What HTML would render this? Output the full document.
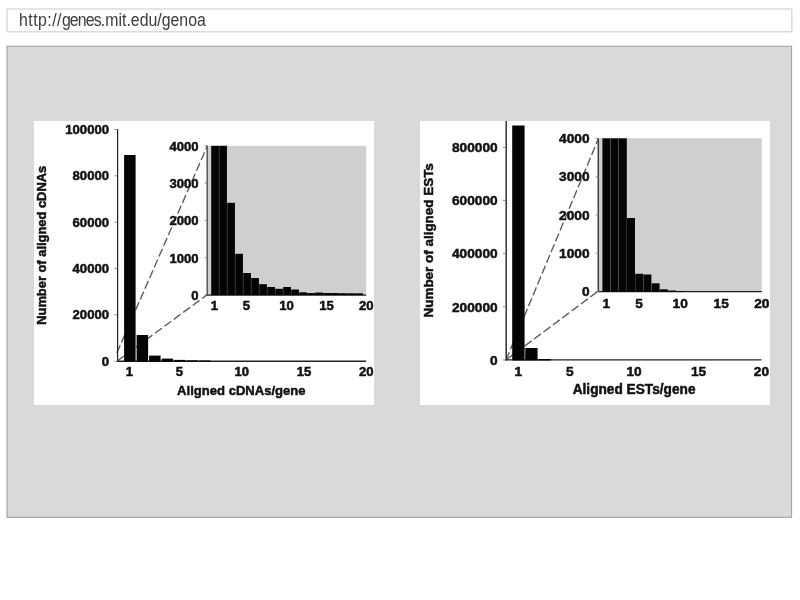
<!DOCTYPE html>
<html><head><meta charset="utf-8"><title>genoa</title>
<style>
html,body{margin:0;padding:0;background:#fff;}
body{width:800px;height:600px;position:relative;overflow:hidden;font-family:"Liberation Sans",sans-serif;}
#url{position:absolute;left:8px;top:10px;width:784px;height:22px;z-index:2;}
#url span{position:absolute;left:10.6px;top:-1px;font-size:17.3px;line-height:22px;color:#3c3c3c;letter-spacing:0;white-space:nowrap;transform-origin:0 82%;transform:scale(0.918,1.06);}
#url i{font-style:normal;}
svg{position:absolute;left:0;top:0;}
svg text{font-family:"Liberation Sans",sans-serif;font-weight:bold;fill:#111;stroke:#111;stroke-width:0.5px;}
</style></head><body>
<div id="url"><span><i style="letter-spacing:0.5px">http://</i><i style="letter-spacing:-0.93px">genes</i>.mit.edu/genoa</span></div>
<svg width="800" height="600" viewBox="0 0 800 600">
<rect x="7" y="9" width="784.8" height="22.8" rx="1" fill="#fff" stroke="#dbdbdb" stroke-width="1.6"/>
<rect x="7" y="46.2" width="784.6" height="471.1" fill="#d9d9d9" stroke="#9c9c9c" stroke-width="1"/>

<rect x="34" y="121" width="340" height="284" fill="#fff"/>
<defs><clipPath id="cl"><rect x="34" y="121" width="340" height="284"/></clipPath><clipPath id="cr"><rect x="420" y="121" width="350" height="284"/></clipPath></defs>
<g clip-path="url(#cl)">
<g stroke="#5a5a5a" stroke-width="1.35" stroke-dasharray="8.5 3.2" fill="none">
<line x1="116.8" y1="353" x2="207.3" y2="146"/>
<line x1="117.3" y1="361" x2="207.5" y2="294.5"/>
</g>
<g stroke="#222" stroke-width="1" fill="none">
<line x1="117.6" y1="129" x2="117.6" y2="361.5" stroke-width="1.2"/>
<line x1="117" y1="361.2" x2="366.1" y2="361.2" stroke-width="1.5"/>
<line x1="114.3" y1="361.20" x2="117.4" y2="361.20" stroke-width="0.8" stroke="#777"/>
<line x1="114.3" y1="314.87" x2="117.4" y2="314.87" stroke-width="0.8" stroke="#777"/>
<line x1="114.3" y1="268.54" x2="117.4" y2="268.54" stroke-width="0.8" stroke="#777"/>
<line x1="114.3" y1="222.21" x2="117.4" y2="222.21" stroke-width="0.8" stroke="#777"/>
<line x1="114.3" y1="175.88" x2="117.4" y2="175.88" stroke-width="0.8" stroke="#777"/>
<line x1="114.3" y1="129.55" x2="117.4" y2="129.55" stroke-width="0.8" stroke="#777"/>
</g>
<text x="109" y="365.70" font-size="13.1" text-anchor="end">0</text>
<text x="109" y="319.37" font-size="13.1" text-anchor="end">20000</text>
<text x="109" y="273.04" font-size="13.1" text-anchor="end">40000</text>
<text x="109" y="226.71" font-size="13.1" text-anchor="end">60000</text>
<text x="109" y="180.38" font-size="13.1" text-anchor="end">80000</text>
<text x="109" y="134.05" font-size="13.1" text-anchor="end">100000</text>
<rect x="124.10" y="155.00" width="11.50" height="206.50" fill="#050505"/>
<rect x="136.60" y="335.00" width="11.50" height="26.50" fill="#050505"/>
<rect x="149.10" y="355.60" width="11.50" height="5.90" fill="#050505"/>
<rect x="161.60" y="358.60" width="11.50" height="2.90" fill="#050505"/>
<rect x="174.10" y="359.90" width="11.50" height="1.60" fill="#050505"/>
<rect x="186.60" y="360.30" width="11.50" height="1.20" fill="#050505"/>
<rect x="199.10" y="360.50" width="11.50" height="1.00" fill="#050505"/>
<text x="129.50" y="376.2" font-size="13.1" text-anchor="middle">1</text>
<text x="179.38" y="376.2" font-size="13.1" text-anchor="middle">5</text>
<text x="241.73" y="376.2" font-size="13.1" text-anchor="middle">10</text>
<text x="304.08" y="376.2" font-size="13.1" text-anchor="middle">15</text>
<text x="358.9" y="376.2" font-size="13.1">20</text>
<text x="177.1" y="394.5" font-size="13.36" textLength="128.5" lengthAdjust="spacingAndGlyphs">Aligned cDNAs/gene</text>
<text transform="translate(45.8,245.3) rotate(-90)" font-size="12.90" text-anchor="middle">Number of aligned cDNAs</text>
<rect x="208" y="145.8" width="158.3" height="149" fill="#ced0ce"/>
<g stroke="#555" stroke-width="1.1" fill="none">
<line x1="207.2" y1="145.8" x2="207.2" y2="295.3" stroke-width="1.5"/>
<line x1="206.5" y1="295.1" x2="366.2" y2="295.1" stroke="#1a1a1a" stroke-width="1.4"/>
<line x1="204.6" y1="295.00" x2="207.8" y2="295.00" stroke-width="0.8" stroke="#777"/>
<line x1="204.6" y1="257.70" x2="207.8" y2="257.70" stroke-width="0.8" stroke="#777"/>
<line x1="204.6" y1="220.40" x2="207.8" y2="220.40" stroke-width="0.8" stroke="#777"/>
<line x1="204.6" y1="183.10" x2="207.8" y2="183.10" stroke-width="0.8" stroke="#777"/>
<line x1="204.6" y1="145.80" x2="207.8" y2="145.80" stroke-width="0.8" stroke="#777"/>
</g>
<text x="198.6" y="300.00" font-size="13.1" text-anchor="end">0</text>
<text x="198.6" y="262.70" font-size="13.1" text-anchor="end">1000</text>
<text x="198.6" y="225.40" font-size="13.1" text-anchor="end">2000</text>
<text x="198.6" y="188.10" font-size="13.1" text-anchor="end">3000</text>
<text x="198.6" y="150.80" font-size="13.1" text-anchor="end">4000</text>
<rect x="211.20" y="145.80" width="7.75" height="149.20" fill="#050505"/>
<rect x="219.20" y="145.80" width="7.75" height="149.20" fill="#050505"/>
<rect x="227.20" y="202.80" width="7.75" height="92.20" fill="#050505"/>
<rect x="235.20" y="253.80" width="7.75" height="41.20" fill="#050505"/>
<rect x="243.20" y="273.00" width="7.75" height="22.00" fill="#050505"/>
<rect x="251.20" y="278.00" width="7.75" height="17.00" fill="#050505"/>
<rect x="259.20" y="284.20" width="7.75" height="10.80" fill="#050505"/>
<rect x="267.20" y="287.00" width="7.75" height="8.00" fill="#050505"/>
<rect x="275.20" y="288.80" width="7.75" height="6.20" fill="#050505"/>
<rect x="283.20" y="287.00" width="7.75" height="8.00" fill="#050505"/>
<rect x="291.20" y="289.50" width="7.75" height="5.50" fill="#050505"/>
<rect x="299.20" y="292.30" width="7.75" height="2.70" fill="#050505"/>
<rect x="307.20" y="293.00" width="7.75" height="2.00" fill="#050505"/>
<rect x="315.20" y="292.50" width="7.75" height="2.50" fill="#050505"/>
<rect x="323.20" y="293.00" width="7.75" height="2.00" fill="#050505"/>
<rect x="331.20" y="293.00" width="7.75" height="2.00" fill="#050505"/>
<rect x="339.20" y="293.20" width="7.75" height="1.80" fill="#050505"/>
<rect x="347.20" y="293.30" width="7.75" height="1.70" fill="#050505"/>
<rect x="355.20" y="293.30" width="7.75" height="1.70" fill="#050505"/>
<text x="214.50" y="310.2" font-size="13.1" text-anchor="middle">1</text>
<text x="246.50" y="310.2" font-size="13.1" text-anchor="middle">5</text>
<text x="286.50" y="310.2" font-size="13.1" text-anchor="middle">10</text>
<text x="326.50" y="310.2" font-size="13.1" text-anchor="middle">15</text>
<text x="359.0" y="310.2" font-size="13.1">20</text>
</g>
<rect x="420" y="121" width="350" height="284" fill="#fff"/>
<g clip-path="url(#cr)">
<g stroke="#5a5a5a" stroke-width="1.35" stroke-dasharray="8.5 3.2" fill="none">
<line x1="506" y1="360" x2="598.5" y2="138.5"/>
<line x1="506" y1="360" x2="598" y2="291.3"/>
</g>
<g stroke="#222" stroke-width="1" fill="none">
<line x1="506.2" y1="121" x2="506.2" y2="360.5" stroke-width="1.4"/>
<line x1="505.5" y1="359.9" x2="761.5" y2="359.9" stroke-width="1.3"/>
<line x1="502.8" y1="360.00" x2="506" y2="360.00" stroke-width="0.8" stroke="#777"/>
<line x1="502.8" y1="306.85" x2="506" y2="306.85" stroke-width="0.8" stroke="#777"/>
<line x1="502.8" y1="253.70" x2="506" y2="253.70" stroke-width="0.8" stroke="#777"/>
<line x1="502.8" y1="200.55" x2="506" y2="200.55" stroke-width="0.8" stroke="#777"/>
<line x1="502.8" y1="147.40" x2="506" y2="147.40" stroke-width="0.8" stroke="#777"/>
</g>
<text x="497.7" y="364.70" font-size="13.7" text-anchor="end">0</text>
<text x="497.7" y="311.55" font-size="13.7" text-anchor="end">200000</text>
<text x="497.7" y="258.40" font-size="13.7" text-anchor="end">400000</text>
<text x="497.7" y="205.25" font-size="13.7" text-anchor="end">600000</text>
<text x="497.7" y="152.10" font-size="13.7" text-anchor="end">800000</text>
<rect x="512.20" y="125.50" width="12.40" height="235.00" fill="#050505"/>
<rect x="525.20" y="348.00" width="12.40" height="12.50" fill="#050505"/>
<rect x="538.20" y="359.00" width="12.40" height="1.50" fill="#050505"/>
<text x="518.20" y="375.8" font-size="13.7" text-anchor="middle">1</text>
<text x="569.72" y="375.8" font-size="13.7" text-anchor="middle">5</text>
<text x="634.12" y="375.8" font-size="13.7" text-anchor="middle">10</text>
<text x="698.52" y="375.8" font-size="13.7" text-anchor="middle">15</text>
<text x="753.8" y="375.6" font-size="13.7">20</text>
<text x="572.7" y="394.1" font-size="13.84" textLength="122.8" lengthAdjust="spacingAndGlyphs">Aligned ESTs/gene</text>
<text transform="translate(432.6,240.3) rotate(-90)" font-size="13.44" text-anchor="middle">Number of aligned ESTs</text>
<rect x="598.3" y="138.3" width="163.5" height="153.5" fill="#ced0ce"/>
<g stroke="#3c3c3c" stroke-width="1.1" fill="none">
<line x1="598.3" y1="138.3" x2="598.3" y2="292" stroke-width="1.5"/>
<line x1="598.3" y1="291.6" x2="761.8" y2="291.6" stroke="#222"/>
<line x1="595.6" y1="291.60" x2="598.8" y2="291.60" stroke-width="0.8" stroke="#777"/>
<line x1="595.6" y1="253.30" x2="598.8" y2="253.30" stroke-width="0.8" stroke="#777"/>
<line x1="595.6" y1="215.00" x2="598.8" y2="215.00" stroke-width="0.8" stroke="#777"/>
<line x1="595.6" y1="176.70" x2="598.8" y2="176.70" stroke-width="0.8" stroke="#777"/>
<line x1="595.6" y1="138.40" x2="598.8" y2="138.40" stroke-width="0.8" stroke="#777"/>
</g>
<text x="589.5" y="296.30" font-size="13.7" text-anchor="end">0</text>
<text x="589.5" y="258.00" font-size="13.7" text-anchor="end">1000</text>
<text x="589.5" y="219.70" font-size="13.7" text-anchor="end">2000</text>
<text x="589.5" y="181.40" font-size="13.7" text-anchor="end">3000</text>
<text x="589.5" y="143.10" font-size="13.7" text-anchor="end">4000</text>
<rect x="602.40" y="138.30" width="8.00" height="153.50" fill="#050505"/>
<rect x="610.60" y="138.30" width="8.00" height="153.50" fill="#050505"/>
<rect x="618.80" y="138.30" width="8.00" height="153.50" fill="#050505"/>
<rect x="627.00" y="218.00" width="8.00" height="73.80" fill="#050505"/>
<rect x="635.20" y="273.80" width="8.00" height="18.00" fill="#050505"/>
<rect x="643.40" y="274.50" width="8.00" height="17.30" fill="#050505"/>
<rect x="651.60" y="283.30" width="8.00" height="8.50" fill="#050505"/>
<rect x="659.80" y="289.30" width="8.00" height="2.50" fill="#050505"/>
<rect x="668.00" y="290.50" width="8.00" height="1.30" fill="#050505"/>
<rect x="676.20" y="291.00" width="8.00" height="0.80" fill="#050505"/>
<text x="606.30" y="307.6" font-size="13.7" text-anchor="middle">1</text>
<text x="639.14" y="307.6" font-size="13.7" text-anchor="middle">5</text>
<text x="680.19" y="307.6" font-size="13.7" text-anchor="middle">10</text>
<text x="721.24" y="307.6" font-size="13.7" text-anchor="middle">15</text>
<text x="754.2" y="307.6" font-size="13.7">20</text>
</g>
</svg>
</body></html>
